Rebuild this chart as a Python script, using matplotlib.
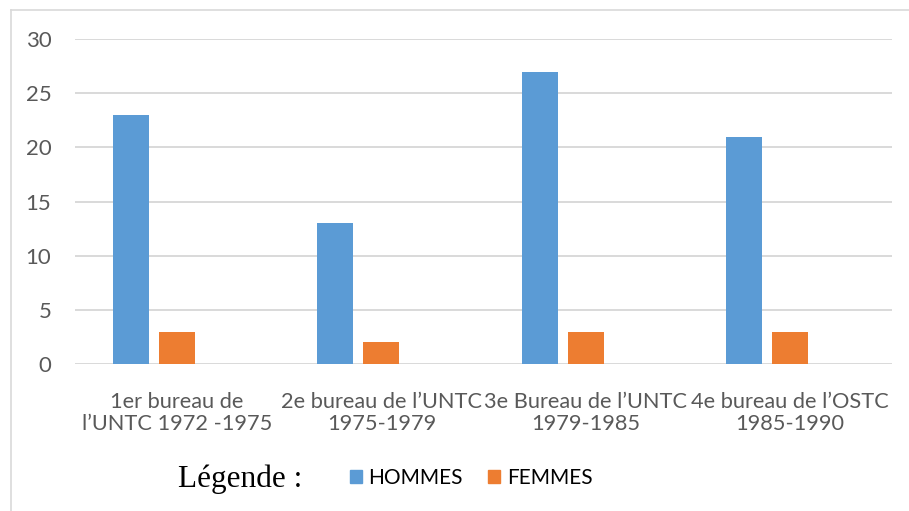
import matplotlib.pyplot as plt
import numpy as np
from matplotlib.patches import Patch

# data
categories = ["1er bureau de\nl\u2019UNTC 1972 -1975",
              "2e bureau de l\u2019UNTC\n1975-1979",
              "3e Bureau de l\u2019UNTC\n1979-1985",
              "4e bureau de l\u2019OSTC\n1985-1990"]
hommes = [23, 13, 27, 21]
femmes = [3, 2, 3, 3]
yticks = [0, 5, 10, 15, 20, 25, 30]

blue = "#5B9BD5"
orange = "#ED7D31"
grid_col = "#D9D9D9"
txt_col = "#595959"
font = "Lato"

fig = plt.figure(figsize=(9.09, 5.11), dpi=100)
ax = fig.add_axes([75 / 909, 1 - 364 / 511, (892 - 75) / 909, (364 - 39) / 511])

x = np.arange(len(categories))
w = 0.176
off = 0.225
ax.bar(x - off, hommes, width=w, color=blue, zorder=3)
ax.bar(x, femmes, width=w, color=orange, zorder=3)

ax.set_xlim(-0.5, len(categories) - 0.5)
ax.set_ylim(0, 30)
ax.set_yticks(yticks)
ax.set_xticks(x)
ax.set_xticklabels(categories, fontsize=15.7, color=txt_col, family=font, linespacing=1.15)
ax.tick_params(axis="y", labelsize=16, labelcolor=txt_col, length=0, pad=17)
ax.tick_params(axis="x", length=0, pad=20)
for lab in ax.get_yticklabels():
    lab.set_family(font)
ax.yaxis.grid(True, color=grid_col, linewidth=1.4, zorder=0)
for s in ax.spines.values():
    s.set_visible(False)

# chart border (only top and left visible in the crop)
fig.add_artist(plt.Line2D([11 / 909, 1], [1 - 10 / 511] * 2, color=grid_col, lw=1.2))
fig.add_artist(plt.Line2D([11 / 909] * 2, [0, 1 - 10 / 511], color=grid_col, lw=1.2))

fig.text(240 / 909, 1 - 479 / 511, "L\u00e9gende :", family="Liberation Serif",
         fontsize=22.5, ha="center", va="center", color="black")
handles = [Patch(color=blue, label="HOMMES"), Patch(color=orange, label="FEMMES")]
fig.legend(handles=handles, loc="center", bbox_to_anchor=(471 / 909, 1 - 478 / 511),
           ncol=2, frameon=False, handlelength=0.6, handleheight=0.6,
           handletextpad=0.3, columnspacing=1.2, prop={"family": font, "size": 15})

fig.savefig("out.png", dpi=100)
